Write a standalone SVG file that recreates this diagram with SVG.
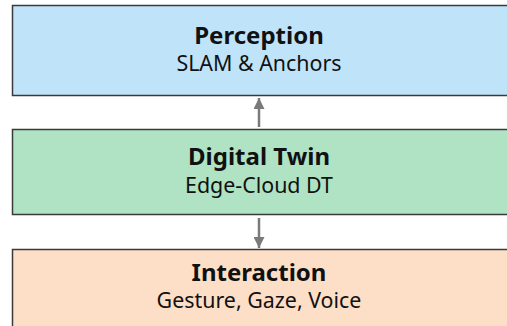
<svg xmlns="http://www.w3.org/2000/svg" width="507" height="326" viewBox="0 0 507 326">
<style>
.box{stroke:#3a3a3a;stroke-width:1.5}
.t{font-family:"Noto Sans","Open Sans","DejaVu Sans",sans-serif;font-weight:700;font-size:24px;fill:#111;text-anchor:middle}
.s{font-family:"Noto Sans","Open Sans","DejaVu Sans",sans-serif;font-size:21.4px;fill:#111;text-anchor:middle}
.c{stroke:#7a7a7a;stroke-width:2.5;fill:none}
</style>
<defs>
<marker id="ah" viewBox="0 0 10 10" refX="10" refY="5" markerWidth="4.4" markerHeight="4.4" orient="auto" markerUnits="strokeWidth">
<path d="M0,0 L10,5 L0,10 Z" fill="#7a7a7a"/>
</marker>
</defs>
<rect width="507" height="326" fill="#ffffff"/>
<g id="perception">
<rect class="box" x="12.5" y="5.5" width="510" height="90" fill="#bfe4fa"/>
<text class="t" x="259" y="44">Perception</text>
<text class="s" x="259" y="71">SLAM &amp; Anchors</text>
</g>
<g id="digital-twin">
<rect class="box" x="12.5" y="129.5" width="510" height="85" fill="#afe3c4"/>
<text class="t" x="259" y="165">Digital Twin</text>
<text class="s" x="259" y="193">Edge-Cloud DT</text>
</g>
<g id="interaction">
<rect class="box" x="12.5" y="249.5" width="510" height="100" fill="#fddec6"/>
<text class="t" x="259" y="281">Interaction</text>
<text class="s" x="259" y="308">Gesture, Gaze, Voice</text>
</g>
<g id="connectors">
<line class="c" x1="259" y1="127" x2="259" y2="98" marker-end="url(#ah)"/>
<line class="c" x1="259" y1="218" x2="259" y2="248" marker-end="url(#ah)"/>
</g>
</svg>
